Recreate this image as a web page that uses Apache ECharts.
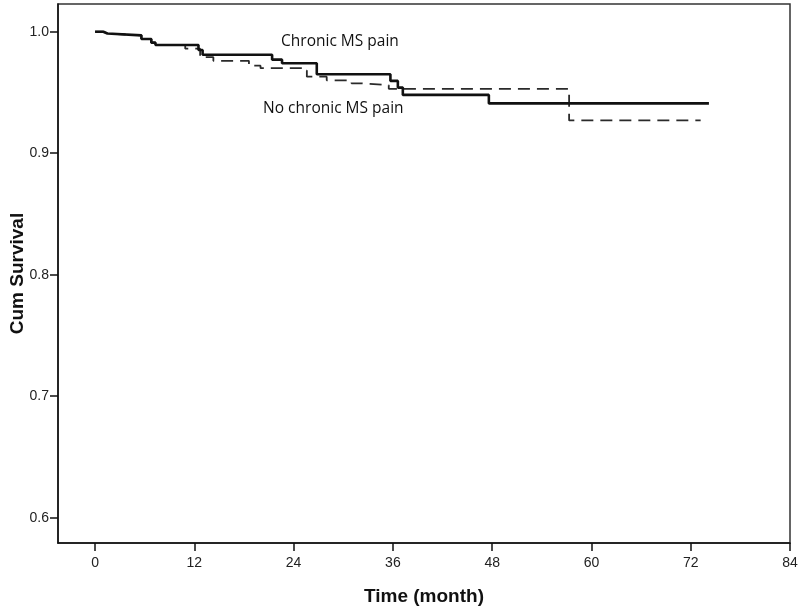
<!DOCTYPE html>
<html>
<head>
<meta charset="utf-8">
<script src="https://cdn.jsdelivr.net/npm/echarts@6/dist/echarts.min.js"></script>
<style>
html,body{margin:0;padding:0;background:#fff;}
#chart{width:800px;height:611px;}
</style>
</head>
<body>
<div id="chart"></div>
<script>
// Kaplan-Meier step data (time in months, cumulative survival after each step)
var chronicTime = [0, 1.0, 1.5, 5.6, 6.8, 7.3, 12.5, 13.0, 21.4, 22.6, 26.8, 35.7, 36.6, 37.2, 47.6, 74.2];
var chronicSurv = [1.0, 0.9985, 0.997, 0.994, 0.991, 0.989, 0.985, 0.981, 0.977, 0.974, 0.965, 0.9595, 0.954, 0.948, 0.941, 0.941];

var noChronicTime = [0, 1.0, 1.5, 5.6, 6.8, 7.3, 10.9, 12.7, 14.3, 18.6, 20.0, 25.0, 25.6, 28.0, 31.0, 32.3, 35.5, 57.3, 73.2];
var noChronicSurv = [1.0, 0.9985, 0.997, 0.994, 0.991, 0.989, 0.986, 0.979, 0.976, 0.972, 0.970, 0.968, 0.963, 0.960, 0.9575, 0.956, 0.953, 0.927, 0.927];

var xTicks = [0, 12, 24, 36, 48, 60, 72, 84];
var yTicks = [0.6, 0.7, 0.8, 0.9, 1.0];

var seriesNames = ['Chronic MS pain', 'No chronic MS pain'];
var labelPos = [[29.6, 0.9915], [28.8, 0.937]];

function pairs(t, s) {
  var out = [];
  for (var i = 0; i < t.length; i++) out.push([t[i], s[i]]);
  return out;
}

var chart = echarts.init(document.getElementById('chart'), null, {renderer: 'canvas'});
var axisColor = '#111';
var option = {
  backgroundColor: '#fff',
  animation: false,
  grid: {
    left: 58, top: 4, right: 10, bottom: 68,
    containLabel: false,
    outerBoundsMode: 'none',
    show: true, borderColor: '#333', borderWidth: 1.5, backgroundColor: 'transparent'
  },
  xAxis: {
    type: 'value',
    min: -4.48, max: 84,
    name: 'Time (month)',
    nameLocation: 'middle',
    nameGap: 44,
    nameTextStyle: {fontFamily: 'Liberation Sans', fontWeight: 'bold', fontSize: 19, color: '#111'},
    axisLine: {show: true, onZero: false, lineStyle: {color: axisColor, width: 1.5}},
    axisTick: {show: true, inside: false, length: 8, customValues: xTicks, lineStyle: {color: axisColor, width: 1.5}},
    axisLabel: {customValues: xTicks, margin: 13, fontFamily: 'Liberation Sans', fontSize: 14, color: '#222'},
    splitLine: {show: false}
  },
  yAxis: {
    type: 'value',
    min: 0.5792, max: 1.0228,
    name: 'Cum Survival',
    nameLocation: 'middle',
    nameGap: 31,
    nameMoveOverlap: false,
    nameRotate: 90,
    nameTextStyle: {fontFamily: 'Liberation Sans', fontWeight: 'bold', fontSize: 19, color: '#111'},
    axisLine: {show: true, onZero: false, lineStyle: {color: axisColor, width: 1.5}},
    axisTick: {show: true, inside: false, length: 8, customValues: yTicks, lineStyle: {color: axisColor, width: 1.5}},
    axisLabel: {customValues: yTicks, margin: 9, fontFamily: 'Liberation Sans', fontSize: 14, color: '#222',
      formatter: function (v) { return v.toFixed(1); }},
    splitLine: {show: false}
  },
  series: [
    {
      name: seriesNames[0],
      type: 'line',
      step: 'end',
      symbol: 'none',
      data: pairs(chronicTime, chronicSurv),
      lineStyle: {color: '#111', width: 2.6, type: 'solid'},
      z: 3,
      markPoint: {
        symbol: 'circle', symbolSize: 0,
        label: {show: true, position: 'inside', formatter: seriesNames[0],
          fontFamily: 'Open Sans', fontSize: 15.5, color: '#111'},
        data: [{coord: labelPos[0]}]
      }
    },
    {
      name: seriesNames[1],
      type: 'line',
      step: 'end',
      symbol: 'none',
      data: pairs(noChronicTime, noChronicSurv),
      lineStyle: {color: '#2a2a2a', width: 1.8, type: [12, 7]},
      z: 2,
      markPoint: {
        symbol: 'circle', symbolSize: 0,
        label: {show: true, position: 'inside', formatter: seriesNames[1],
          fontFamily: 'Open Sans', fontSize: 15.5, color: '#111'},
        data: [{coord: labelPos[1]}]
      }
    }
  ]
};
chart.setOption(option);
</script>
</body>
</html>
